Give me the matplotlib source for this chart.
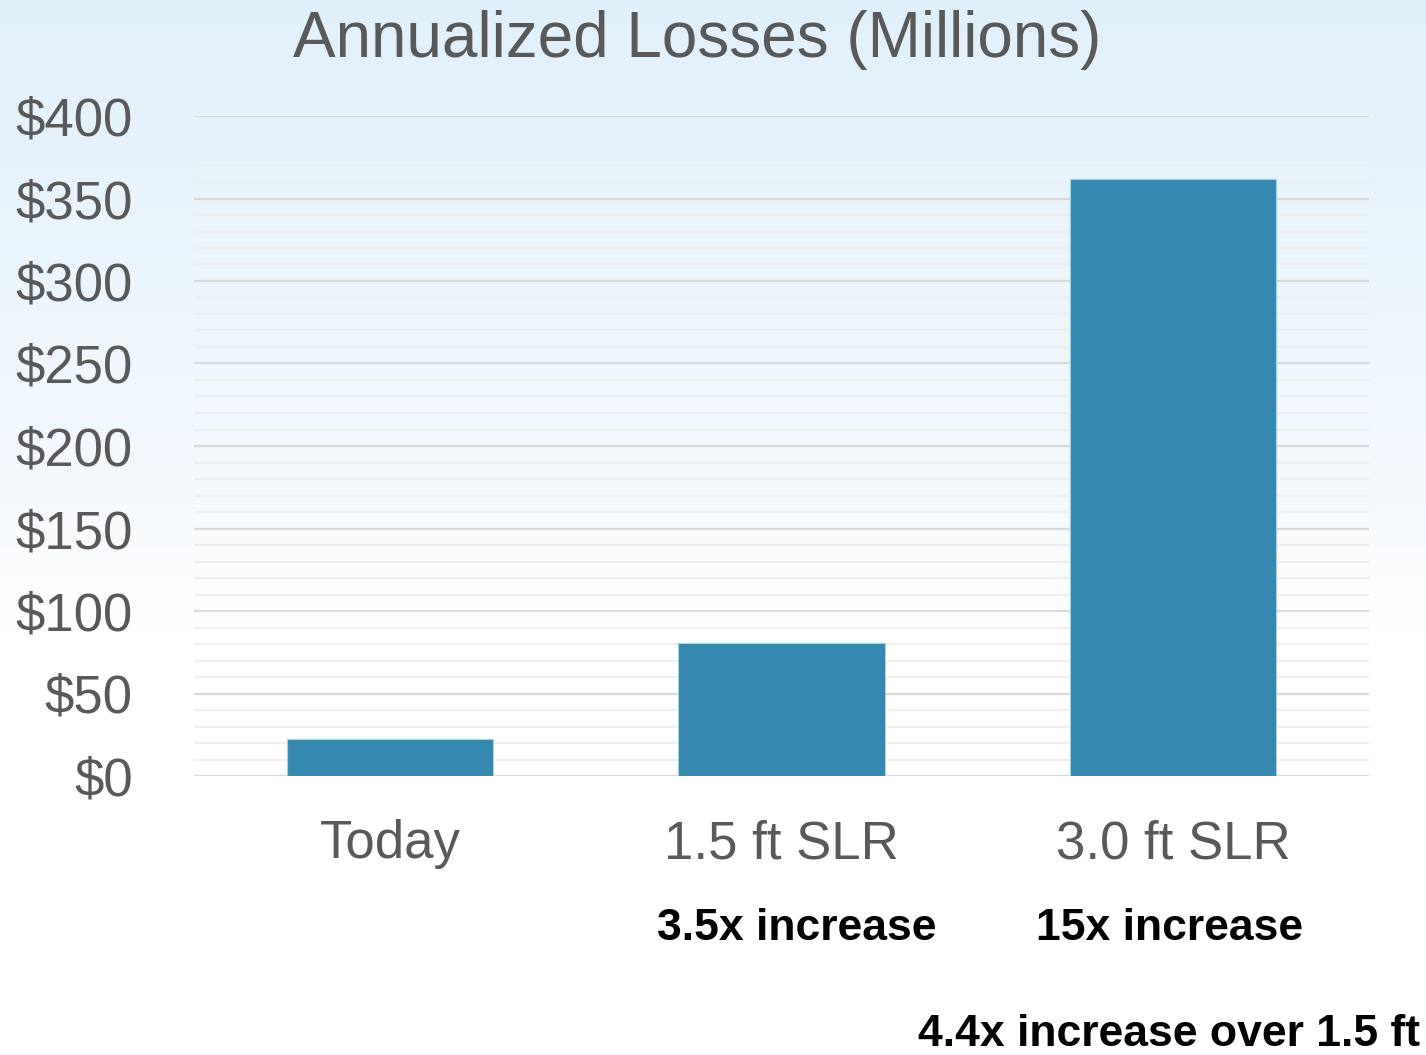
import numpy as np
import matplotlib.pyplot as plt
from matplotlib.colors import LinearSegmentedColormap

categories = ['Today', '1.5 ft SLR', '3.0 ft SLR']
losses = [22.5, 80.5, 362]
yticks = [0, 50, 100, 150, 200, 250, 300, 350, 400]
ytick_labels = ['$0', '$50', '$100', '$150', '$200', '$250', '$300', '$350', '$400']
notes = ['3.5x increase', '15x increase']
note_extra = '4.4x increase over 1.5 ft'

plt.rcParams['font.family'] = ['Liberation Sans', 'DejaVu Sans']

fig = plt.figure(figsize=(14.26, 10.55), dpi=100)

# background gradient, light blue at top fading to white
bg = fig.add_axes([0, 0, 1, 1], zorder=-5)
grad = np.linspace(0, 1, 256).reshape(-1, 1)
cmap = LinearSegmentedColormap.from_list('bg', [(0.0, '#E0F0FA'), (0.45, '#F4F9FE'), (0.6, '#FFFFFF'), (1.0, '#FFFFFF')])
bg.imshow(grad, aspect='auto', cmap=cmap, extent=[0, 1, 0, 1], origin='upper')
bg.axis('off')

ax = fig.add_axes([194 / 1426, 1 - 776 / 1055, 1175 / 1426, 660 / 1055])
ax.set_facecolor('none')

x = np.arange(len(categories))
ax.bar(x, losses, width=0.526, color='#3588AF', edgecolor='#A9CFE3', linewidth=0.8, zorder=3)

ax.set_xlim(-0.5, 2.5)
ax.set_ylim(0, 400)
ax.set_yticks(yticks)
ax.set_yticklabels(ytick_labels)
ax.set_yticks(np.arange(0, 401, 10), minor=True)
ax.set_xticks(x)
ax.set_xticklabels(categories)

ax.grid(axis='y', which='major', color='#D9D9D9', linewidth=1.6, zorder=0)
ax.grid(axis='y', which='minor', color='#EEEEEE', linewidth=1.3, zorder=0)
ax.tick_params(axis='y', which='both', length=0, labelsize=38, labelcolor='#595959', pad=44)
ax.tick_params(axis='x', length=0, labelsize=38, labelcolor='#595959', pad=31)
for s in ax.spines.values():
    s.set_visible(False)

fig.text(697 / 1426, 1 - 40 / 1055, 'Annualized Losses (Millions)', ha='center', va='center',
         fontsize=46, color='#595959')

# reference uses a condensed bold face; shrink to keep similar widths
bold = dict(fontsize=32, fontweight='bold', color='black')
fig.text(797 / 1426, 1 - 929 / 1055, notes[0], ha='center', va='center', **bold)
fig.text(1170 / 1426, 1 - 929 / 1055, notes[1], ha='center', va='center', **bold)
fig.text(1420 / 1426, 1 - 1034 / 1055, note_extra, ha='right', va='center', **bold)

fig.savefig('out.png', dpi=100)
